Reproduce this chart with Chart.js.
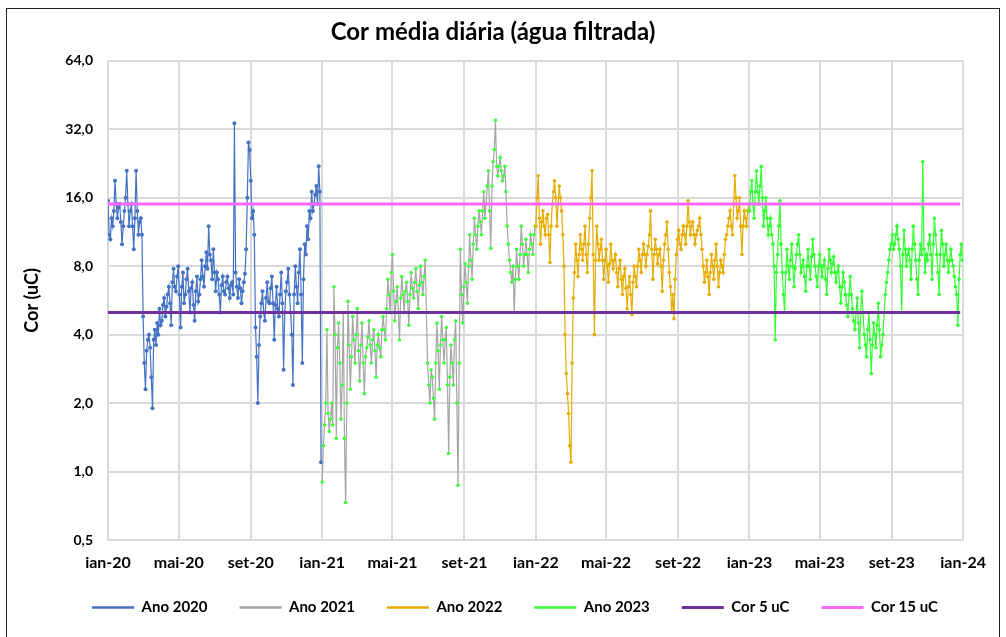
<!DOCTYPE html>
<html>
<head>
<meta charset="utf-8">
<script src="https://cdn.jsdelivr.net/npm/chart.js@4"></script>
<style>
    html, body { margin: 0; padding: 0; background: #fff; overflow: hidden; }
    #box {
        position: absolute; left: 6px; top: 8px;
        width: 994px; height: 640px;
        border: 1px solid #222; box-sizing: border-box;
    }
    canvas { display: block; }
</style>
</head>
<body>
<div id="box"><canvas id="cor" width="992" height="629"></canvas></div>
<script>
// Cor média diária - dias contados a partir de 01/jan/2020, uma leitura a cada 2 dias
const STEP = 2;
const START_2020 = 0;
const START_2021 = 366;
const START_2022 = 731;
const START_2023 = 1096;

const Y_TICKS = [0.5, 1, 2, 4, 8, 16, 32, 64];
const TICK_DAYS = [0, 121, 244, 366, 486, 609, 731, 851, 974, 1096, 1216, 1339, 1461];
const TICK_LABELS = ['jan-20', 'mai-20', 'set-20', 'jan-21', 'mai-21', 'set-21', 'jan-22',
    'mai-22', 'set-22', 'jan-23', 'mai-23', 'set-23', 'jan-24'];

const ano2020 = [15.5, 11, 10.5, 13, 12, 14, 19, 15, 13, 14.5, 15, 12.5, 10, 12, 14, 16,
    21, 15, 12, 14, 15, 12, 9.5, 13, 21, 14, 11, 12.5, 13, 11, 4.8, 3.0,
    2.3, 3.4, 3.8, 4.0, 3.5, 2.6, 1.9, 3.8, 4.2, 3.6, 4.5, 4.0, 5.2, 4.4, 4.6, 5.4,
    5.8, 4.8, 5.3, 6.0, 6.5, 5.5, 4.4, 6.8, 7.8, 6.5, 6.2, 7.2, 8.0, 6.0, 4.3, 6.5,
    7.5, 5.5, 6.0, 7.0, 7.8, 6.2, 5.0, 6.4, 6.8, 5.4, 4.6, 6.2, 7.2, 5.6, 6.0, 7.0,
    8.5, 7.2, 6.5, 8.0, 9.2, 7.8, 12, 9.0, 8.5, 7.0, 9.5, 7.5, 6.2, 7.5, 7.0, 6.0,
    5.0, 6.6, 7.2, 6.2, 6.0, 6.8, 7.2, 6.4, 5.8, 6.6, 6.8, 6.0, 34, 7.5, 6.5, 5.8,
    7.0, 6.4, 5.5, 6.2, 6.8, 7.4, 9.5, 16, 28, 26, 19, 13, 14, 11, 4.3, 3.2,
    2.0, 3.6, 4.8, 5.5, 6.2, 5.0, 4.6, 5.8, 6.8, 5.6, 5.5, 6.4, 7.2, 5.5, 3.8, 5.4,
    6.5, 5.2, 4.8, 6.0, 7.5, 5.5, 2.8, 5.0, 6.2, 6.8, 7.8, 6.0, 5.0, 4.0, 2.4, 6.0,
    8.0, 6.5, 5.5, 7.5, 9.5, 6.0, 3.0, 7.0, 10, 9.0, 12, 10.5, 14, 13, 17, 14,
    15, 16.5, 18, 15, 22, 17, 1.1];

const ano2021 = [0.9, 1.3, 1.6, 2.0, 4.2, 1.8, 1.5, 1.7, 2.0, 1.6, 6.5, 4.0, 1.4, 3.5, 4.5, 3.0,
    1.7, 2.4, 5.0, 1.4, 0.73, 2.0, 5.6, 3.6, 2.3, 3.2, 4.8, 3.8, 3.0, 4.0, 5.2, 3.4,
    2.5, 3.6, 4.5, 3.0, 2.2, 3.2, 3.5, 3.9, 4.6, 3.6, 3.0, 3.8, 4.2, 3.4, 2.6, 3.6,
    4.0, 3.5, 3.2, 4.2, 4.8, 4.2, 3.8, 5.2, 7.0, 6.0, 5.0, 7.5, 9.0, 6.2, 4.6, 5.6,
    6.5, 5.0, 3.8, 5.8, 7.2, 6.0, 5.0, 6.2, 6.8, 5.6, 4.4, 6.0, 7.5, 6.4, 5.8, 6.8,
    7.8, 6.2, 5.2, 6.6, 8.0, 6.8, 6.0, 7.2, 8.5, 5.0, 3.0, 2.4, 2.0, 2.8, 2.6, 2.1,
    1.7, 3.0, 4.5, 3.4, 2.3, 3.6, 4.8, 3.8, 3.0, 3.8, 4.3, 2.4, 1.2, 2.6, 3.6, 3.0,
    2.4, 3.8, 4.6, 2.0, 0.87, 3.0, 9.5, 6.0, 4.5, 6.5, 8.2, 6.8, 5.5, 8.0, 11, 8.5,
    7.0, 10, 13, 11, 9.5, 12, 14, 12.5, 11, 14, 17, 13, 15, 18, 21, 14,
    9.6, 18, 23, 26, 35, 22, 20, 22, 24, 21, 19, 20, 22, 17, 12, 10,
    8.5, 7.5, 6.8, 8.0, 5.0, 7.0, 9.5, 8.0, 7.0, 9.0, 12, 10, 8.0, 9.0, 10.5, 9.0,
    7.5, 9.5, 11, 10, 9.0, 11, 12];

const ano2022 = [12, 16, 20, 13, 10, 12.5, 14, 12, 11, 13, 13.5, 11, 8.3, 12, 15, 17,
    19, 16, 12, 15, 18, 16, 14, 11, 8, 4.0, 2.7, 2.2, 1.8, 1.3, 1.1, 3.0,
    5.8, 7.5, 10, 8.5, 7.2, 9.0, 11, 9.5, 8.5, 10, 12, 9.0, 7.5, 10, 13, 16,
    21, 9.0, 4.0, 8.5, 12, 10, 8.5, 9.5, 10.5, 8.5, 7.0, 8.5, 9.5, 8.0, 6.8, 8.2,
    10, 8.5, 7.8, 8.5, 9.0, 7.5, 6.5, 7.8, 8.5, 7.0, 6.0, 7.2, 7.8, 6.4, 5.2, 6.5,
    7.2, 6.0, 4.9, 6.8, 8.0, 7.2, 6.5, 8.0, 9.5, 8.5, 7.5, 9.0, 10, 9.0, 8.0, 9.0,
    9.8, 11, 14, 9.5, 7.0, 9.0, 10.5, 9.5, 8.2, 9.0, 9.5, 8.0, 6.2, 8.5, 10, 11,
    12.5, 9.5, 7.5, 6.5, 5.0, 6.0, 4.7, 7.0, 9.0, 10.5, 11.5, 10, 9.5, 11, 12, 11,
    10, 12, 15.5, 12.5, 11, 12, 12.5, 11, 10, 11, 11.5, 12, 13, 11, 9.5, 8.0,
    6.8, 7.5, 8.5, 7.2, 6.0, 7.5, 9.0, 8.0, 7.0, 8.5, 10, 8.0, 6.5, 7.5, 8.5, 8.0,
    7.5, 9.0, 10.5, 11, 12, 13, 14, 12, 11, 15, 20, 16, 13, 14, 16, 12,
    9.0, 12, 14, 13, 12, 14, 15];

const ano2023 = [14, 17, 19, 15, 13, 17, 21, 17, 15, 18, 22, 16, 12, 14, 16, 13,
    11, 12, 13, 11, 10, 8.0, 3.8, 7.5, 9.0, 12, 15.5, 10, 7.5, 6.0, 5.0, 7.5,
    9.5, 8.0, 7.0, 8.5, 10, 8.0, 6.5, 7.8, 9.0, 10, 11, 9.0, 7.5, 8.0, 8.5, 7.2,
    6.2, 8.0, 9.5, 8.0, 7.0, 8.8, 10.5, 9.0, 8.0, 7.2, 6.5, 8.0, 9.0, 8.0, 7.2, 8.0,
    8.5, 7.0, 6.0, 7.8, 9.5, 8.5, 7.5, 8.2, 8.8, 7.5, 6.8, 7.5, 8.0, 6.5, 5.5, 6.5,
    7.5, 6.8, 6.0, 5.4, 4.8, 6.0, 7.2, 6.0, 5.2, 4.6, 4.2, 5.0, 5.8, 4.5, 3.5, 5.0,
    6.2, 5.0, 4.0, 3.6, 3.2, 4.2, 5.0, 3.8, 2.7, 3.6, 4.5, 4.0, 3.5, 4.4, 5.5, 4.2,
    3.2, 3.6, 4.0, 5.0, 6.0, 6.8, 7.5, 8.5, 9.5, 10, 11, 9.5, 10, 11, 12, 10.5,
    9.5, 8.0, 5.0, 9.0, 11.5, 9.5, 8.0, 9.0, 9.5, 8.5, 7.0, 9.5, 12, 10, 8.5, 7.0,
    6.0, 8.5, 10, 9.0, 23, 9.5, 7.5, 9.0, 8.5, 10, 11, 9.0, 7.0, 10, 13, 11,
    9.0, 7.5, 6.0, 9.0, 11.5, 10, 8.0, 9.0, 10, 8.5, 7.5, 8.5, 9.5, 8.5, 8.0, 7.2,
    6.5, 6.0, 4.4, 7.0, 9.0, 10, 8.5];

const LIMITE_5 = 5;
const LIMITE_15 = 15;
const LIMITE_DAYS = [0, 1456];

const FONT = 'Lato, "Liberation Sans", sans-serif';

function toPoints(values, start) {
    return values.map((v, i) => ({ x: start + i * STEP, y: v }));
}

function serie(label, values, start, line, marker, radius, order) {
    return {
        label: label,
        data: toPoints(values, start),
        borderColor: line,
        backgroundColor: marker,
        pointBackgroundColor: marker,
        pointBorderColor: marker,
        borderWidth: 1.2,
        pointRadius: radius,
        pointBorderWidth: 0,
        tension: 0,
        order: order
    };
}

function limite(label, value, color, order) {
    return {
        label: label,
        data: LIMITE_DAYS.map(d => ({ x: d, y: value })),
        borderColor: color,
        backgroundColor: color,
        borderWidth: 3,
        pointRadius: 0,
        order: order
    };
}

// desloca a legenda para a direita, como no original
const legendShift = {
    id: 'legendShift',
    afterLayout(chart) {
        chart.legend.left += 22;
        chart.legend.right += 22;
    }
};

new Chart(document.getElementById('cor').getContext('2d'), {
    type: 'line',
    data: {
        datasets: [
            serie('Ano 2020', ano2020, START_2020, '#4472C4', '#4472C4', 2, 5),
            serie('Ano 2021', ano2021, START_2021, '#A5A5A5', '#3CFF3C', 1.8, 4),
            serie('Ano 2022', ano2022, START_2022, '#E6AC00', '#E6AC00', 1.8, 3),
            serie('Ano 2023', ano2023, START_2023, '#33FF33', '#33FF33', 1.8, 2),
            limite('Cor 5 uC', LIMITE_5, '#7030A0', 1),
            limite('Cor 15 uC', LIMITE_15, '#FF66FF', 0)
        ]
    },
    plugins: [legendShift],
    options: {
        responsive: false,
        animation: false,
        layout: { padding: { left: 10, right: 30, top: 9, bottom: 13 } },
        plugins: {
            title: {
                display: true,
                text: 'Cor média diária (água filtrada)',
                color: '#000',
                font: { family: FONT, size: 24, weight: 'bold' },
                padding: { top: 0, bottom: 14 }
            },
            legend: {
                position: 'bottom',
                labels: {
                    color: '#000',
                    font: { family: FONT, size: 15, weight: 'bold' },
                    usePointStyle: true,
                    pointStyle: 'line',
                    pointStyleWidth: 42,
                    boxWidth: 42,
                    padding: 32,
                    sort: (a, b) => a.datasetIndex - b.datasetIndex,
                    generateLabels: (chart) => {
                        const items = Chart.defaults.plugins.legend.labels.generateLabels(chart);
                        items.forEach(it => {
                            const ds = chart.data.datasets[it.datasetIndex];
                            it.strokeStyle = ds.borderColor;
                            it.lineWidth = ds.borderWidth < 2 ? 2.5 : 3;
                        });
                        return items;
                    }
                }
            },
            tooltip: { enabled: false }
        },
        scales: {
            x: {
                type: 'linear',
                min: 0,
                max: 1461,
                afterBuildTicks: (scale) => {
                    scale.ticks = TICK_DAYS.map(d => ({ value: d }));
                },
                afterFit: (scale) => { scale.height = 28; },
                ticks: {
                    autoSkip: false,
                    maxRotation: 0,
                    padding: 13,
                    color: '#000',
                    font: { family: FONT, size: 16, weight: 'bold' },
                    callback: (v) => TICK_LABELS[TICK_DAYS.indexOf(v)]
                },
                grid: { color: '#d9d9d9', lineWidth: 2, drawTicks: false },
                border: { display: false }
            },
            y: {
                type: 'logarithmic',
                min: 0.5,
                max: 64,
                afterBuildTicks: (scale) => {
                    scale.ticks = Y_TICKS.map(v => ({ value: v }));
                },
                afterFit: (scale) => { scale.width = 91; },
                ticks: {
                    padding: 15,
                    color: '#000',
                    font: { family: FONT, size: 14, weight: 'bold' },
                    callback: (v) => Number(v).toFixed(1).replace('.', ',')
                },
                title: {
                    display: true,
                    text: 'Cor (uC)',
                    color: '#000',
                    font: { family: FONT, size: 18, weight: 'bold' },
                    padding: 4
                },
                grid: { color: '#d9d9d9', lineWidth: 2, drawTicks: false },
                border: { display: false }
            }
        }
    }
});
</script>
</body>
</html>
